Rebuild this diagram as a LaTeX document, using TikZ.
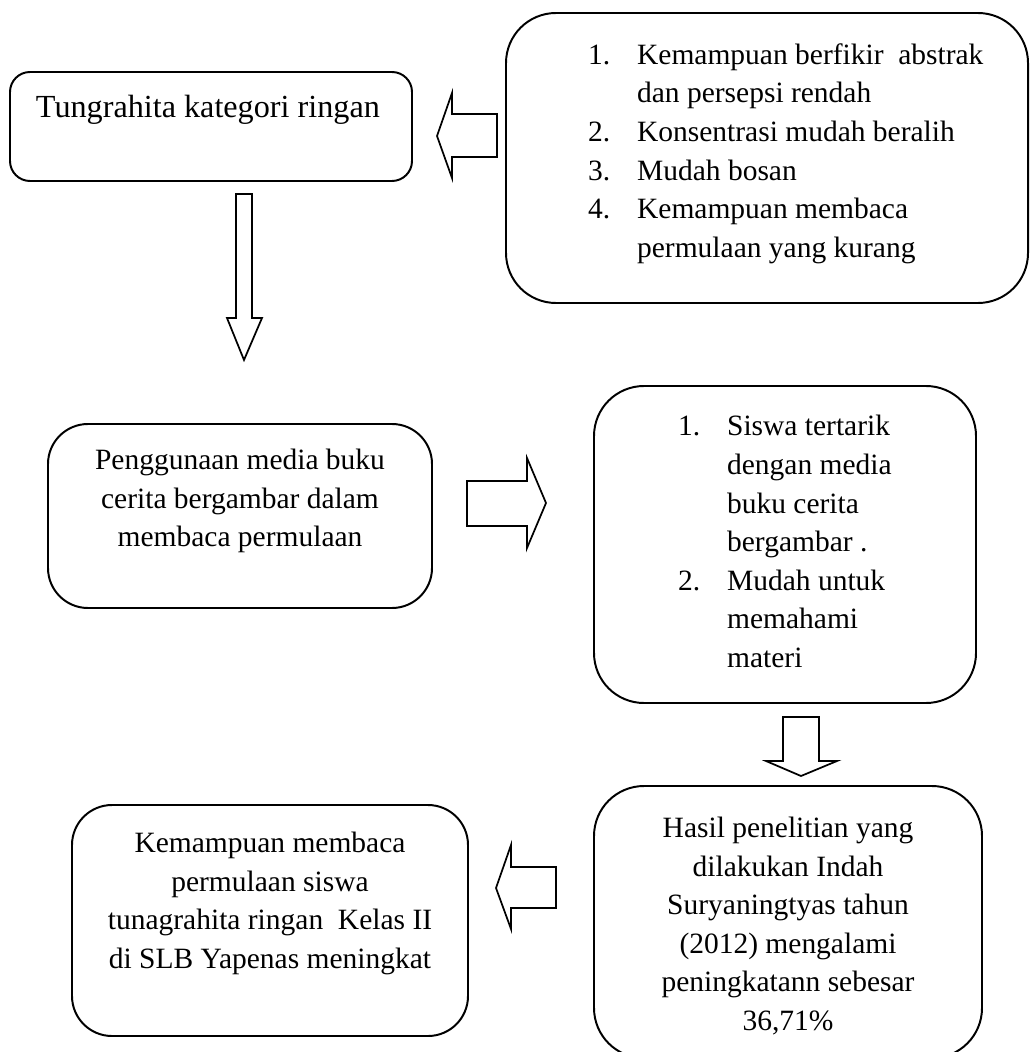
\documentclass[tikz,border=0pt]{standalone}
\usepackage{fontspec}
\setmainfont{Liberation Serif}
\def\px{0.407pt}
\tikzset{
  box/.style={draw, line width=0.8pt, inner sep=0pt, outer sep=0pt},
  txt/.style={inner sep=0pt, outer sep=0pt, font=\fontsize{12}{15.7}\selectfont},
  blockarrow/.style={draw, line width=0.7pt, line join=miter}
}
\newcommand{\num}[1]{\makebox[20pt][l]{#1}}

\begin{document}
\begin{tikzpicture}[x=\px, y=-\px]
  \clip (0,0) rectangle (1031,1052);
  %%%%% boxes %%%%%
  \node[box, rounded corners=20*\px, minimum width=402*\px, minimum height=109*\px] (box1) at (211,126.5) {};
  \node[box, rounded corners=50*\px, minimum width=522*\px, minimum height=290*\px] (box2) at (767,158) {};
  \node[box, rounded corners=40*\px, minimum width=384*\px, minimum height=184*\px] (box3) at (240,516) {};
  \node[box, rounded corners=50*\px, minimum width=382*\px, minimum height=317*\px] (box4) at (785,544.5) {};
  \node[box, rounded corners=50*\px, minimum width=388*\px, minimum height=272*\px] (box5) at (788,922) {};
  \node[box, rounded corners=40*\px, minimum width=396*\px, minimum height=231*\px] (box6) at (270,920.5) {};

  %%%%% texts %%%%%
  \node[txt, anchor=west, font=\fontsize{13.1}{17}\selectfont] (txt1) at (36,110) {Tungrahita kategori ringan};
  \node[txt, anchor=west] (list2) at (588,153) {%
    \begin{tabular}{@{}l@{}l@{}}
      \num{1.} & Kemampuan berfikir~ abstrak\\
               & dan persepsi rendah\\
      \num{2.} & Konsentrasi mudah beralih\\
      \num{3.} & Mudah bosan\\
      \num{4.} & Kemampuan membaca\\
               & permulaan yang kurang
    \end{tabular}};
  \node[txt, align=center] (txt3) at (240,501) {Penggunaan media buku\\cerita bergambar dalam\\membaca permulaan};
  \node[txt, anchor=west] (list4) at (678,544) {%
    \begin{tabular}{@{}l@{}l@{}}
      \num{1.} & Siswa tertarik\\
               & dengan media\\
               & buku cerita\\
               & bergambar .\\
      \num{2.} & Mudah untuk\\
               & memahami\\
               & materi
    \end{tabular}};
  \node[txt, align=center] (txt5) at (788,926) {Hasil penelitian yang\\dilakukan Indah\\Suryaningtyas tahun\\(2012) mengalami\\peningkatann sebesar\\36,71\%};
  \node[txt, align=center] (txt6) at (270,903.5) {Kemampuan membaca\\permulaan siswa\\tunagrahita ringan~ Kelas II\\di SLB Yapenas meningkat};

  %%%%% block arrows %%%%%
  \draw[blockarrow] (437,136) -- (452,93) -- (452,114) -- (497,114) -- (497,157) -- (452,157) -- (452,178) -- cycle;
  \draw[blockarrow] (244,360) -- (227,318) -- (236,318) -- (236,194) -- (252,194) -- (252,318) -- (262,318) -- cycle;
  \draw[blockarrow] (546,503) -- (527,458) -- (527,481) -- (467,481) -- (467,526) -- (527,526) -- (527,548) -- cycle;
  \draw[blockarrow] (801,776) -- (766,761) -- (783,761) -- (783,717) -- (819,717) -- (819,761) -- (837,761) -- cycle;
  \draw[blockarrow] (496,888) -- (511,845) -- (511,867) -- (556,867) -- (556,908) -- (511,908) -- (511,929) -- cycle;
\end{tikzpicture}
\end{document}
